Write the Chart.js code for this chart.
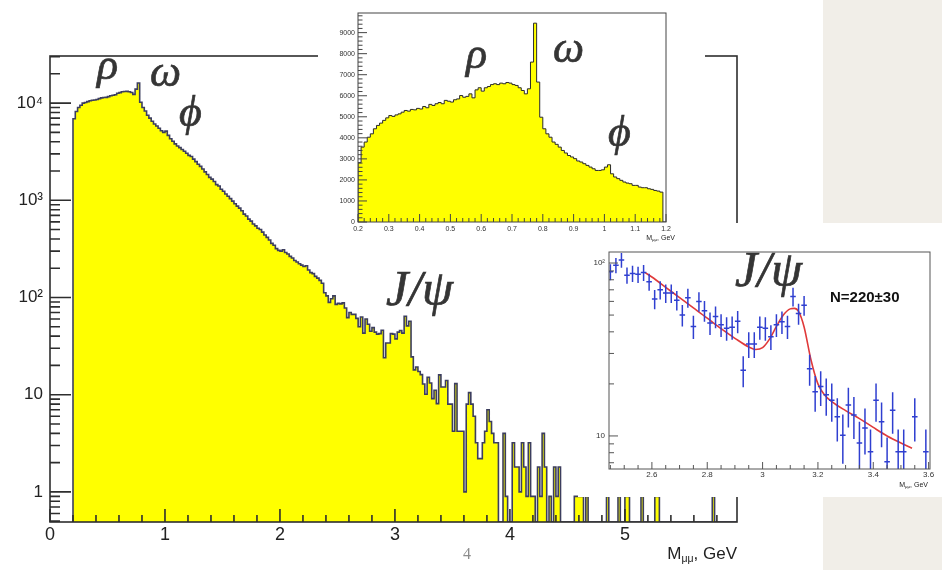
<!DOCTYPE html>
<html>
<head>
<meta charset="utf-8">
<title>Dimuon invariant mass</title>
<script src="https://cdn.jsdelivr.net/npm/chart.js@4.4.1/dist/chart.umd.min.js"></script>
<style>
  html, body { margin: 0; padding: 0; background: #fff; }
  #page { position: relative; width: 942px; height: 570px; overflow: hidden; font-family: "Liberation Sans", Arial, sans-serif; }
  canvas { position: absolute; display: block; }
  #mainCanvas { left: 0; top: 0; z-index: 1; }
  #jpsiCanvas { left: 578px; top: 223px; background: #fff; z-index: 4; }
  #lowCanvas { left: 318px; top: 0; background: #fff; z-index: 6; }
  .paper { position: absolute; background: #f1eee8; z-index: 2; }
  .txt { position: absolute; line-height: 1; white-space: nowrap; }
  .greek { font-family: "Liberation Serif", "DejaVu Serif", serif; font-style: italic; color: #353535; font-size: 44px; -webkit-text-stroke: 0.7px #353535; }
  .psi { font-size: 50px; }
  .z3 { z-index: 3; }
  .z5 { z-index: 5; }
  .z7 { z-index: 7; }
  .axtitle { color: #222; text-align: right; }
  .axtitle sub { font-size: 0.62em; vertical-align: -0.25em; line-height: 0; }
</style>
</head>
<body>
<div id="page">
  <canvas id="mainCanvas" width="942" height="570"></canvas>
  <div class="paper" style="left:823px;top:0;width:119px;height:223px"></div>
  <div class="paper" style="left:823px;top:497px;width:119px;height:73px"></div>

  <div class="txt greek z3" style="left:97px;top:43px">ρ</div>
  <div class="txt greek z3" style="left:150px;top:50px">ω</div>
  <div class="txt greek z3" style="left:179px;top:90px">ϕ</div>
  <div class="txt greek psi z3" style="left:386px;top:263px">J/ψ</div>
  <div class="txt axtitle z3" style="right:205px;top:545px;font-size:17px">M<sub>μμ</sub>, GeV</div>
  <div class="txt z3" style="left:463px;top:546px;font-family:'Liberation Serif',serif;font-size:16px;color:#8c8c8c">4</div>

  <canvas id="jpsiCanvas" width="364" height="274"></canvas>
  <div class="txt greek psi z5" style="left:735px;top:244px">J/ψ</div>
  <div class="txt z5" style="left:830px;top:289px;font-size:15px;font-weight:bold;color:#111">N=220±30</div>
  <div class="txt axtitle z5" style="right:14px;top:481px;font-size:7px">M<sub>μμ</sub>, GeV</div>

  <canvas id="lowCanvas" width="387" height="242"></canvas>
  <div class="txt greek z7" style="left:466px;top:32px">ρ</div>
  <div class="txt greek z7" style="left:553px;top:26px">ω</div>
  <div class="txt greek z7" style="left:608px;top:110px">ϕ</div>
  <div class="txt axtitle z7" style="right:267px;top:234px;font-size:7px">M<sub>μμ</sub>, GeV</div>
</div>
<script>
// full dimuon spectrum, 20 MeV bins from 0.20 GeV
const mainBinStart = 0.20;
const mainBinWidth = 0.02;
const mainCounts = [
  1500, 6900, 8200, 9000, 9500, 10000, 10150, 10350, 10550, 10700,
  10750, 10900, 11100, 11300, 11400, 11450, 11650, 11900, 12050, 12200,
  12600, 12800, 13100, 13150, 13200, 13100, 12850, 12300, 13900, 16100,
  10200, 9000, 8300, 7500, 7000, 6500, 6100, 5800, 5500, 5200,
  5000, 5150, 4650, 4300, 4050, 3800, 3620, 3480, 3330, 3200,
  3050, 2900, 2820, 2650, 2500, 2350, 2230, 2100, 1960, 1840,
  1720, 1650, 1560, 1450, 1400, 1300, 1240, 1160, 1100, 1040,
  980, 920, 870, 830, 780, 720, 690, 640, 610, 570,
  545, 515, 500, 470, 440, 415, 390, 360, 345, 318,
  305, 300, 310, 290, 280, 265, 255, 240, 232, 222,
  215, 208, 212, 192, 180, 176, 165, 158, 150, 140,
  112, 104, 89, 97, 104, 85, 87, 86, 88, 78,
  62, 70, 67, 67, 61, 50, 63, 43, 60, 53,
  45, 49, 44, 42, 42.5, 46, 24, 34, 34, 42.5,
  42, 37.5, 44, 45.7, 43, 64, 51, 57, 24.5, 18,
  19.3, 17.3, 16.1, 12.9, 10.1, 15.1, 13.2, 9.1, 11.1, 8.1,
  16, 12, 12, 14, 8, 8, 4.2, 13, 4.2, 4.2,
  4.2, 1, 8, 10.5, 8, 6, 3.2, 2.2, 2.2, 3.2,
  4.2, 7, 5.3, 4, 3.2, 3.2, 0, 0, 4, 0.9,
  0, 0, 3.2, 1.8, 1.8, 1, 3.2, 1.8, 0.9, 3.2,
  0.9, 0.9, 0, 1.8, 0.9, 4, 1.8, 0, 0.9, 0,
  1.8, 0.9, 1.8, 0, 0, 0, 0, 0, 0, 0.9,
  0.9, 0.9, 0.9, 0, 0.9, 0, 0, 0, 0, 0,
  0, 0, 0, 0.9, 0, 0, 0, 0, 0.9, 0,
  0, 0.9, 0.9, 0, 0, 0, 0, 0, 0.9, 0,
  0, 0, 0, 0, 0.9, 0.9, 0, 0, 0, 0,
  0, 0, 0, 0, 0, 0, 0, 0, 0, 0,
  0, 0, 0, 0, 0, 0, 0, 0, 0, 0.9,
  0, 0, 0, 0, 0, 0, 0, 0, 0, 0
];
const mainXRange = [0, 5.975];
const mainYRange = [0.49, 30500];
const mainXTicks = [0, 1, 2, 3, 4, 5];
const mainYTicks = [1, 10, 100, 1000, 10000];

// low-mass region (rho / omega / phi), 10 MeV bins
const lowBinStart = 0.20;
const lowBinWidth = 0.01;
const lowCounts = [
  1500, 2820, 3560, 3800, 4030, 4190, 4430, 4590, 4700, 4830,
  4950, 5060, 5020, 5090, 5140, 5220, 5300, 5270, 5350, 5330,
  5400, 5370, 5490, 5430, 5590, 5540, 5620, 5680, 5620, 5780,
  5740, 5700, 5810, 5850, 6010, 5930, 5970, 6090, 5900, 6280,
  6380, 6220, 6380, 6440, 6530, 6570, 6530, 6600, 6570, 6630,
  6600, 6530, 6490, 6380, 6250, 6090, 6330, 7600, 9450, 6650,
  4980, 4430, 4190, 4030, 3800, 3690, 3560, 3400, 3280, 3160,
  3090, 3010, 2900, 2850, 2770, 2690, 2610, 2530, 2450, 2450,
  2480, 2610, 2720, 2290, 2140, 2060, 1980, 1900, 1850, 1820,
  1740, 1740, 1660, 1630, 1630, 1580, 1550, 1500, 1470, 1420
];
const lowXRange = [0.2, 1.2];
const lowYRange = [0, 9933];
const lowXTicks = [0.2, 0.3, 0.4, 0.5, 0.6, 0.7, 0.8, 0.9, 1, 1.1, 1.2];
const lowYTicks = [0, 1000, 2000, 3000, 4000, 5000, 6000, 7000, 8000, 9000];

// J/psi region: bin centres, counts and errors
const jpsiMass = [
  2.45, 2.47, 2.49, 2.51, 2.53, 2.55, 2.57, 2.59, 2.61, 2.63,
  2.65, 2.67, 2.69, 2.71, 2.73, 2.75, 2.77, 2.79, 2.81, 2.83,
  2.85, 2.87, 2.89, 2.91, 2.93, 2.95, 2.97, 2.99, 3.01, 3.03,
  3.05, 3.07, 3.09, 3.11, 3.13, 3.15, 3.17, 3.19, 3.21, 3.23,
  3.25, 3.27, 3.29, 3.31, 3.33, 3.35, 3.37, 3.39, 3.41, 3.43,
  3.45, 3.47, 3.49, 3.51, 3.55, 3.59
];
const jpsiCounts = [
  89, 97, 104, 85, 87, 86, 88, 78, 62, 70,
  67, 67, 61, 50, 63, 43, 60, 53, 45, 49,
  44, 42, 42.5, 46, 24, 34, 34, 42.5, 42, 37.5,
  44, 45.7, 43, 64, 51, 57, 24.5, 18, 19.3, 17.3,
  16.1, 12.9, 10.1, 15.1, 13.2, 9.1, 11.1, 8.1, 16.1, 12.1,
  7.1, 14.1, 8.1, 8.1, 12.9, 8.1
];
const jpsiErr = [
  9.4, 9.8, 10.2, 9.2, 9.3, 9.3, 9.4, 8.8, 7.9, 8.4,
  8.2, 8.2, 7.8, 7.1, 7.9, 6.6, 7.7, 7.3, 6.7, 7.0,
  6.6, 6.5, 6.5, 6.8, 4.9, 5.8, 5.8, 6.5, 6.5, 6.1,
  6.6, 6.8, 6.6, 8.0, 7.1, 7.5, 5.0, 4.2, 4.4, 4.2,
  4.0, 3.6, 3.2, 3.9, 3.6, 3.0, 3.3, 2.8, 4.0, 3.5,
  2.7, 3.8, 2.8, 2.8, 3.6, 2.8
];
const jpsiHalfBin = 0.01;
// background + gaussian fit
const fitMass = [2.575, 2.60, 2.65, 2.70, 2.75, 2.80, 2.85, 2.90, 2.95, 2.975, 3.00, 3.025, 3.05, 3.075,
  3.10, 3.115, 3.13, 3.15, 3.175, 3.20, 3.225, 3.25, 3.30, 3.35, 3.40, 3.45, 3.50, 3.54];
const fitCounts = [88, 83, 72.4, 63, 55, 48, 41.7, 36.7, 32.7, 31.6, 32.4, 36.3, 43, 50,
  54.3, 54.7, 52.5, 42.7, 27.5, 20, 17.2, 15.8, 14, 12.6, 11.2, 10, 9.1, 8.5];
const jpsiXRange = [2.445, 3.605];
const jpsiYRange = [6.44, 115.8];
const jpsiXTicks = [2.6, 2.8, 3, 3.2, 3.4, 3.6];
const jpsiYTicks = [10, 100];

Chart.defaults.font.family = '"Liberation Sans", Arial, sans-serif';

// histogram outline as a stepped line; empty bins sit on the axis floor
function stepPoints(start, width, counts, floor) {
  const pts = [{ x: start, y: floor }];
  counts.forEach((c, i) => {
    pts.push({ x: +(start + i * width).toFixed(3), y: c > 0 ? c : floor });
  });
  pts.push({ x: +(start + counts.length * width).toFixed(3), y: floor });
  return pts;
}

function powLabel(v) {
  const sup = { 2: '\u00B2', 3: '\u00B3', 4: '\u2074', 5: '\u2075' };
  const e = Math.round(Math.log10(v));
  return e < 2 ? String(v) : '10' + sup[e];
}

function axis(type, range, ticks, opts) {
  const horiz = opts.horiz;
  return {
    type: type,
    min: range[0],
    max: range[1],
    grid: { display: false, drawTicks: false },
    border: { display: false },
    ticks: {
      autoSkip: false,
      maxRotation: 0,
      padding: opts.pad,
      color: opts.color || '#222',
      font: { size: opts.size },
      callback: opts.fmt || (v => String(v))
    },
    afterBuildTicks: s => { s.ticks = ticks.map(v => ({ value: v })); },
    afterFit: s => {
      if (horiz) s.height = opts.room; else s.width = opts.room;
    }
  };
}

// ROOT-style frame with ticks pointing into the plot
function rootFrame(cfg) {
  return {
    id: 'rootFrame',
    afterDatasetsDraw(chart) {
      const { ctx, chartArea: a } = chart;
      const xs = chart.scales.x, ys = chart.scales.y;
      ctx.save();
      ctx.strokeStyle = cfg.color;
      ctx.lineWidth = cfg.width;
      ctx.beginPath();
      cfg.xMajor.forEach(v => { const p = xs.getPixelForValue(v); ctx.moveTo(p, a.bottom); ctx.lineTo(p, a.bottom - cfg.xLen[0]); });
      cfg.xMinor.forEach(v => { const p = xs.getPixelForValue(v); ctx.moveTo(p, a.bottom); ctx.lineTo(p, a.bottom - cfg.xLen[1]); });
      cfg.yMajor.forEach(v => { const p = ys.getPixelForValue(v); ctx.moveTo(a.left, p); ctx.lineTo(a.left + cfg.yLen[0], p); });
      cfg.yMinor.forEach(v => { const p = ys.getPixelForValue(v); ctx.moveTo(a.left, p); ctx.lineTo(a.left + cfg.yLen[1], p); });
      ctx.stroke();
      ctx.strokeRect(a.left, a.top, a.right - a.left, a.bottom - a.top);
      ctx.restore();
    }
  };
}

function logMinors(lo, hi) {
  const out = [];
  for (let e = -1; e <= 5; e++) {
    for (let m = 2; m <= 9; m++) {
      const v = m * Math.pow(10, e);
      if (v >= lo && v <= hi) out.push(v);
    }
  }
  return out;
}

const baseOptions = {
  responsive: false,
  animation: false,
  devicePixelRatio: 1,
  events: [],
  plugins: { legend: { display: false }, tooltip: { enabled: false } }
};

// ---- full spectrum
const mainXMinor = [];
for (let i = 1; i <= 29; i++) if (i % 5) mainXMinor.push(i * 0.2);

new Chart(document.getElementById('mainCanvas'), {
  type: 'line',
  data: {
    datasets: [{
      data: stepPoints(mainBinStart, mainBinWidth, mainCounts, mainYRange[0]),
      stepped: 'after',
      fill: 'start',
      backgroundColor: '#ffff00',
      borderColor: '#3c3e5e',
      borderWidth: 1.6,
      pointRadius: 0
    }]
  },
  options: Object.assign({}, baseOptions, {
    layout: { padding: { top: 56, right: 205, left: 0, bottom: 0 } },
    scales: {
      x: axis('linear', mainXRange, mainXTicks, { horiz: true, pad: 2, size: 18, room: 48 }),
      y: axis('logarithmic', mainYRange, mainYTicks, { horiz: false, pad: 7, size: 17, room: 50, fmt: powLabel })
    }
  }),
  plugins: [rootFrame({
    color: '#2e2e2e', width: 1.6,
    xMajor: mainXTicks, xMinor: mainXMinor, xLen: [13, 7],
    yMajor: mainYTicks, yMinor: logMinors(mainYRange[0], mainYRange[1]), yLen: [21, 10]
  })]
});

// ---- J/psi inset
const jpsiXMinor = [];
for (let i = 49; i <= 72; i++) if (i % 4) jpsiXMinor.push(i / 20);

const errorBars = {
  id: 'errorBars',
  afterDatasetsDraw(chart) {
    const { ctx, chartArea: a } = chart;
    const xs = chart.scales.x, ys = chart.scales.y;
    ctx.save();
    ctx.beginPath();
    ctx.rect(a.left, a.top, a.right - a.left, a.bottom - a.top);
    ctx.clip();
    ctx.strokeStyle = '#2f3fd0';
    ctx.lineWidth = 1.5;
    ctx.beginPath();
    jpsiMass.forEach((m, i) => {
      const c = jpsiCounts[i], e = jpsiErr[i];
      const px = xs.getPixelForValue(m);
      const py = ys.getPixelForValue(c);
      const lo = c - e > 0 ? ys.getPixelForValue(c - e) : a.bottom;
      ctx.moveTo(px, ys.getPixelForValue(c + e));
      ctx.lineTo(px, lo);
      ctx.moveTo(xs.getPixelForValue(m - jpsiHalfBin), py);
      ctx.lineTo(xs.getPixelForValue(m + jpsiHalfBin), py);
    });
    ctx.stroke();
    ctx.restore();
  }
};

new Chart(document.getElementById('jpsiCanvas'), {
  type: 'line',
  data: {
    datasets: [{
      data: fitMass.map((m, i) => ({ x: m, y: fitCounts[i] })),
      borderColor: '#e03a3a',
      borderWidth: 1.6,
      pointRadius: 0,
      fill: false,
      cubicInterpolationMode: 'monotone'
    }]
  },
  options: Object.assign({}, baseOptions, {
    layout: { padding: { top: 29, right: 12, left: 0, bottom: 0 } },
    scales: {
      x: axis('linear', jpsiXRange, jpsiXTicks, { horiz: true, pad: 1, size: 8, room: 28, color: '#333' }),
      y: axis('logarithmic', jpsiYRange, jpsiYTicks, { horiz: false, pad: 4, size: 8, room: 31, color: '#333', fmt: powLabel })
    }
  }),
  plugins: [errorBars, rootFrame({
    color: '#555', width: 1,
    xMajor: jpsiXTicks, xMinor: jpsiXMinor, xLen: [7, 4],
    yMajor: jpsiYTicks, yMinor: logMinors(jpsiYRange[0], jpsiYRange[1]), yLen: [9, 5]
  })]
});

// ---- low-mass inset
const lowXMinor = [];
for (let i = 11; i < 60; i++) if (i % 5) lowXMinor.push(i / 50);
const lowYMinor = [];
for (let v = 200; v < lowYRange[1]; v += 200) if (v % 1000) lowYMinor.push(v);

new Chart(document.getElementById('lowCanvas'), {
  type: 'line',
  data: {
    datasets: [{
      data: stepPoints(lowBinStart, lowBinWidth, lowCounts, 0),
      stepped: 'after',
      fill: 'start',
      backgroundColor: '#ffff00',
      borderColor: '#2a2a2a',
      borderWidth: 1,
      pointRadius: 0
    }]
  },
  options: Object.assign({}, baseOptions, {
    layout: { padding: { top: 13, right: 39, left: 0, bottom: 0 } },
    scales: {
      x: axis('linear', lowXRange, lowXTicks, { horiz: true, pad: 3, size: 7, room: 20, color: '#333' }),
      y: axis('linear', lowYRange, lowYTicks, { horiz: false, pad: 3, size: 7, room: 40, color: '#333' })
    }
  }),
  plugins: [rootFrame({
    color: '#444', width: 1,
    xMajor: lowXTicks, xMinor: lowXMinor, xLen: [8, 4],
    yMajor: lowYTicks, yMinor: lowYMinor, yLen: [9, 4.5]
  })]
});
</script>
</body>
</html>
